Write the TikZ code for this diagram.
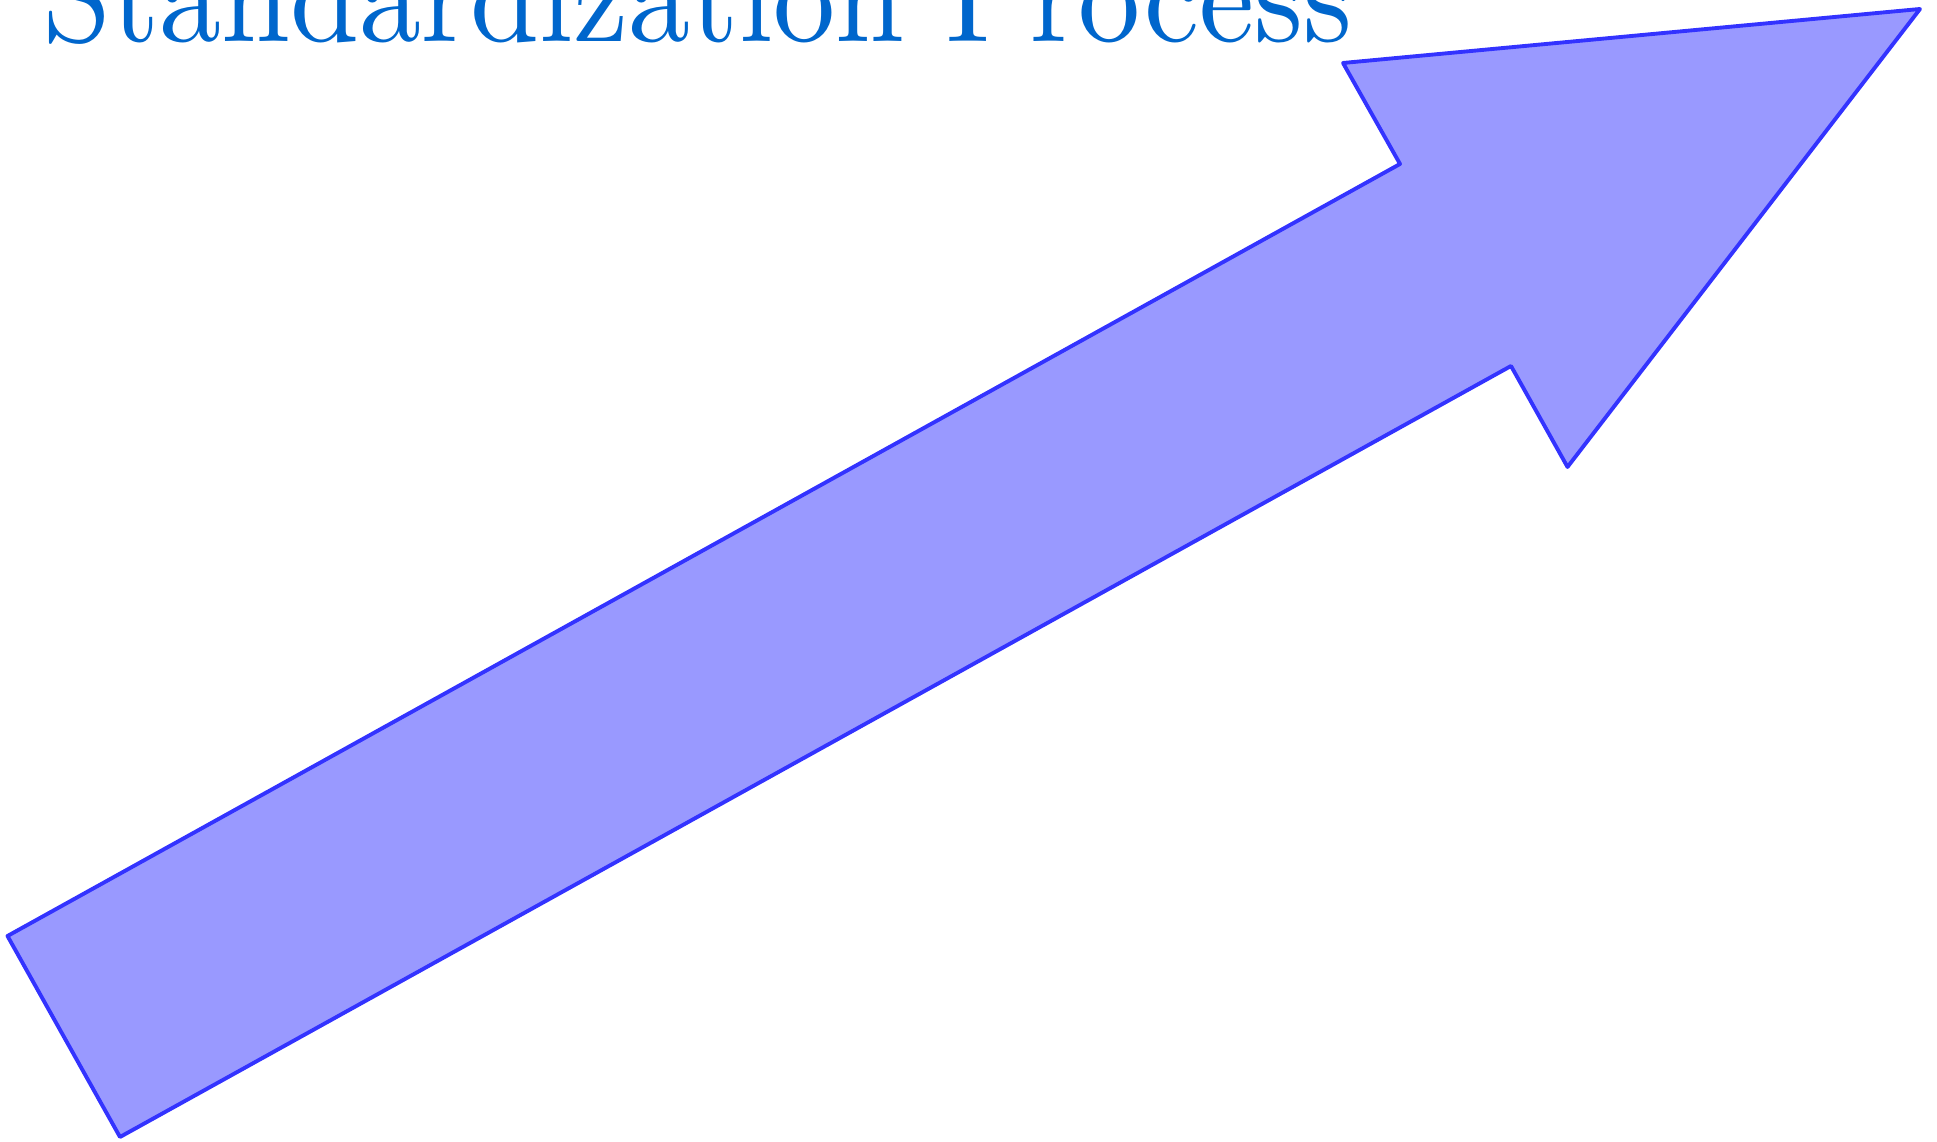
\documentclass[tikz,border=0pt]{standalone}
\usepackage{tikz}
\usetikzlibrary{positioning}
\definecolor{arrowline}{HTML}{3333FF}
\definecolor{arrowfill}{HTML}{9999FF}
\definecolor{titleblue}{HTML}{0066CC}

\begin{document}
\begin{tikzpicture}[x=0.02cm, y=0.02cm,
        bigarrow/.style={draw=arrowline, fill=arrowfill, line width=2.2pt, line join=round},
        title/.style={text=titleblue, inner sep=0pt, xscale=7.06, yscale=7.6}]
        \useasboundingbox (0,0) rectangle (1937,1142);
        \node[title, anchor=base west] (proc) at (40,1100) {Standardization Process};
        \coordinate (tailtop) at (7.5,206);
        \coordinate (tailbot) at (120,5);
        \coordinate (neckbot) at (1511,776);
        \coordinate (barbbot) at (1567.5,675);
        \coordinate (tip) at (1920,1133);
        \coordinate (barbtop) at (1343,1079);
        \coordinate (necktop) at (1400,978);
        \draw[bigarrow] (tailtop) -- (tailbot) -- (neckbot) -- (barbbot)
        -- (tip) -- (barbtop) -- (necktop) -- cycle;
    \end{tikzpicture}
\end{document}
